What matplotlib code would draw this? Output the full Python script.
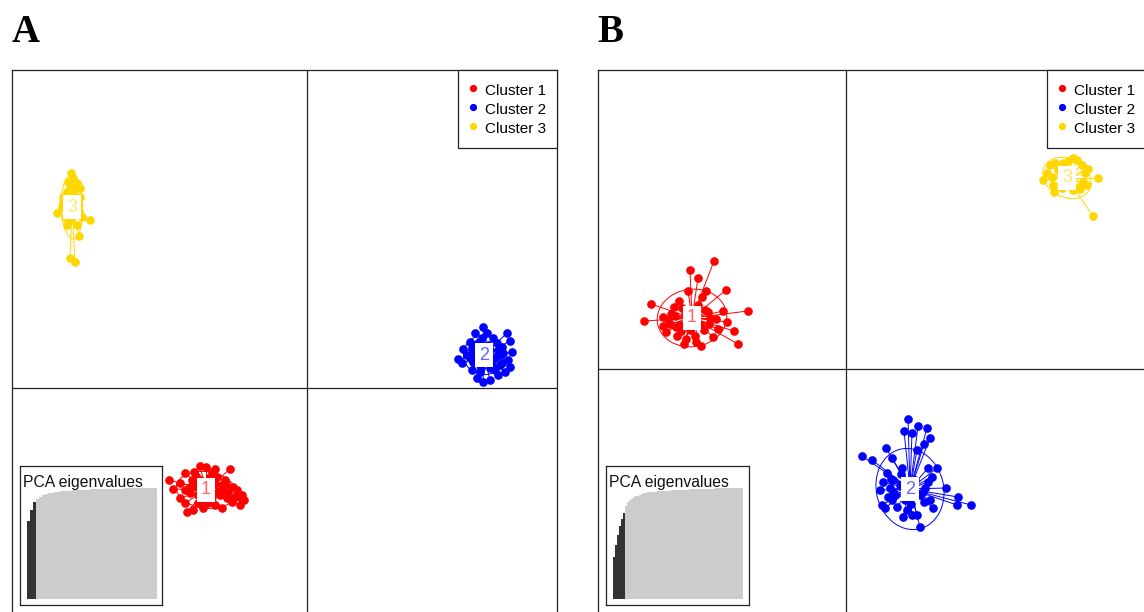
import numpy as np
import matplotlib
matplotlib.use("Agg")
import matplotlib.pyplot as plt
from matplotlib.lines import Line2D
from matplotlib.patches import Ellipse

plt.rcParams['font.family'] = ['Liberation Sans', 'DejaVu Sans']

# ---------------- data ----------------
cluster_labels = ["Cluster 1", "Cluster 2", "Cluster 3"]
cluster_colors = ["#FF0000", "#0000FF", "#FFD700"]

# Panel A scores (LD1, LD2)
a1_x = [-2.76,-2.68,-2.54,-2.44,-2.26,-2.14,-2.02,-1.84,-1.54,-1.64,-1.30,-1.26,-1.34,-1.50,-1.70,-1.84,-2.08,-2.28,-2.40,-2.44,-2.54,-1.40,-1.48,-2.34,-2.30,-1.74,-1.68,-1.94,-1.80,-2.18,-1.60,-1.44,-1.34,-2.24,-2.18,-1.90,-1.84,-2.14,-1.78,-2.34,-2.04,-1.70,-2.22,-1.90,-1.58,-2.44,-1.98,-1.62]
a1_y = [-1.84,-2.02,-1.90,-1.70,-1.68,-1.56,-1.58,-1.62,-1.62,-1.84,-2.14,-2.24,-2.34,-2.28,-2.40,-2.34,-2.40,-2.44,-2.48,-2.30,-2.20,-2.04,-1.98,-2.10,-1.84,-2.14,-2.04,-1.78,-1.78,-2.30,-2.20,-2.18,-2.18,-1.94,-2.14,-2.18,-1.92,-1.84,-2.08,-1.98,-2.24,-1.94,-1.76,-1.68,-2.08,-2.04,-2.30,-1.92]
a2_x = [3.52,3.36,4.00,4.06,3.12,3.02,3.10,3.30,3.40,3.52,3.66,3.82,3.96,4.06,4.02,4.10,3.90,3.72,3.60,3.26,3.20,3.32,3.46,3.76,3.90,3.92,3.42,3.80,3.50,3.32,3.42,3.66,3.56,3.76,3.46,3.62,3.26,3.82,3.36,3.70,3.50,3.60,3.70,3.40,3.56,3.86,3.30,3.66,3.48,3.86]
a2_y = [1.22,1.10,1.10,0.94,0.78,0.58,0.50,0.36,0.20,0.12,0.16,0.26,0.32,0.42,0.56,0.72,0.82,1.00,1.10,0.92,0.66,0.52,0.32,0.36,0.50,0.70,0.90,0.90,1.00,0.72,0.76,0.76,0.52,0.60,0.46,0.86,0.60,0.76,0.86,0.46,0.60,0.70,0.56,0.66,0.84,0.66,0.80,0.40,0.40,0.46]
a3_x = [-4.72,-4.68,-4.78,-4.60,-4.54,-4.74,-4.80,-4.90,-5.00,-4.88,-4.34,-4.56,-4.74,-4.64,-4.84,-4.50,-4.80,-4.60,-4.68,-4.54,-4.88,-4.70,-4.64,-4.78,-4.58,-4.74,-4.66,-4.82,-4.56]
a3_y = [4.30,4.20,4.12,4.10,4.00,4.00,3.92,3.62,3.50,3.72,3.36,3.04,2.60,2.52,3.42,3.42,3.26,3.26,3.96,3.82,3.82,3.76,3.56,3.52,3.66,3.36,3.86,3.66,3.52]
a_centroid_x = [-2.02, 3.54, -4.70]
a_centroid_y = [-2.04, 0.66, 3.62]

# Panel B scores (LD1, LD2)
b1_x = [-2.64,-3.12,-2.96,-2.40,-3.90,-4.04,-1.96,-2.24,-2.16,-2.90,-3.24,-2.46,-2.38,-2.66,-3.60,-3.66,-3.44,-3.16,-2.80,-2.88,-3.38,-3.02,-3.66,-3.52,-2.74,-2.76,-3.34,-3.42,-2.84,-3.22,-2.92,-3.32,-2.82,-3.12,-2.96,-3.28,-2.72,-3.50,-3.30,-3.20,-3.00,-3.56,-2.60,-2.56,-3.40]
b1_y = [2.16,1.98,1.82,1.58,1.30,0.96,1.16,0.76,0.50,0.46,0.50,1.16,0.94,0.64,0.74,1.04,1.24,1.56,1.56,1.44,0.66,0.66,0.86,0.90,0.90,1.14,1.36,1.06,0.78,1.08,0.88,0.88,1.18,0.78,1.28,1.22,1.02,1.10,0.76,0.60,0.54,0.98,1.00,0.80,0.84]
b2_x = [1.24,1.16,1.44,1.62,1.32,1.68,1.56,1.42,0.80,0.32,0.52,0.92,1.82,1.64,1.12,0.94,0.74,0.68,2.00,2.24,2.50,2.22,1.74,1.68,0.72,0.78,1.14,1.32,1.42,1.48,0.92,0.94,1.54,1.64,1.72,0.82,1.22,1.08,1.48,0.98,1.38,1.18,1.58,0.88,0.84,1.02,1.30,1.56,0.90,1.10]
b2_y = [-1.00,-1.24,-1.14,-1.18,-1.28,-1.38,-1.50,-1.62,-1.58,-1.74,-1.82,-1.78,-1.98,-1.98,-1.98,-2.22,-2.26,-2.42,-2.38,-2.56,-2.72,-2.72,-2.78,-2.62,-2.72,-2.78,-2.96,-2.92,-2.92,-3.16,-2.62,-2.46,-2.46,-2.26,-2.16,-2.08,-2.82,-2.32,-2.52,-2.52,-2.22,-2.62,-2.38,-2.38,-2.56,-2.76,-2.70,-2.66,-2.20,-2.10]
b3_x = [4.54,4.44,4.08,4.18,4.02,3.94,4.14,4.16,4.32,4.54,4.68,4.82,4.84,4.78,5.04,4.94,4.62,4.34,4.72,4.12,4.74,4.24,4.66]
b3_y = [4.22,4.16,4.08,4.12,3.92,3.78,3.68,3.54,3.62,3.58,3.60,3.68,4.00,3.92,3.82,3.06,4.18,4.12,4.08,3.84,3.74,3.98,3.64]
b_centroid_x = [-3.08, 1.28, 4.42]
b_centroid_y = [1.02, -2.40, 3.82]

# PCA eigenvalue insets (cumulative share), number of retained PCs
pca_a = [0.70,0.80,0.87,0.90,0.92,0.935,0.945,0.952,0.958,0.963,0.967,0.970,0.973,0.975,0.977,0.979,0.981,0.983,0.984,0.985,0.986,0.987,0.988,0.989,0.990,0.991,0.992,0.993,0.993,0.994,0.995,0.995,0.996,0.996,0.997,0.997,0.998,0.998,0.999,0.999,0.999,1.0,1.0]
pca_a_retained = 3
pca_b = [0.38,0.49,0.58,0.66,0.72,0.775,0.84,0.874,0.89,0.90,0.919,0.928,0.932,0.937,0.946,0.955,0.958,0.960,0.962,0.964,0.966,0.968,0.970,0.971,0.972,0.973,0.975,0.976,0.977,0.978,0.979,0.980,0.981,0.982,0.983,0.984,0.985,0.986,0.987,0.988,0.989,0.990,0.990,0.991,0.992,0.992,0.993,0.994,0.994,0.995,0.995,0.996,0.996,0.997,0.997,0.998,0.998,0.998,0.999,0.999,0.999,1.0,1.0,1.0,1.0]
pca_b_retained = 6

# ---------------- layout ----------------
W, H = 1144, 612
fig = plt.figure(figsize=(W/100, H/100), dpi=100)

def px_axes(l, t, r, b):
    return fig.add_axes([l/W, 1 - b/H, (r - l)/W, (b - t)/H])

def draw_panel(ax, groups, cx, cy, xlim, ylim):
    ax.set_xlim(*xlim)
    ax.set_ylim(*ylim)
    ax.set_xticks([]); ax.set_yticks([])
    for s in ax.spines.values():
        s.set_linewidth(0.9); s.set_color('#222222')
    ax.axvline(0, color='#222222', lw=0.9, zorder=1)
    ax.axhline(0, color='#222222', lw=0.9, zorder=1)
    for (gx, gy), mx, my, col, k in zip(groups, cx, cy, cluster_colors, range(3)):
        gx = np.asarray(gx); gy = np.asarray(gy)
        for x, y in zip(gx, gy):
            ax.plot([mx, x], [my, y], color=col, lw=0.7, zorder=2)
        cov = np.cov(np.vstack([gx, gy]))
        vals, vecs = np.linalg.eigh(cov)
        ang = np.degrees(np.arctan2(vecs[1, 1], vecs[0, 1]))
        ax.add_patch(Ellipse((mx, my), 2*1.5*np.sqrt(vals[1]), 2*1.5*np.sqrt(vals[0]),
                             angle=ang, fill=False, ec=col, lw=0.7, zorder=2))
        ax.plot(gx, gy, 'o', color=col, ms=5.2, mec=col, zorder=3)
        ax.text(mx, my, str(k + 1), color=col, alpha=0.6, fontsize=13, ha='center', va='center',
                zorder=5, bbox=dict(boxstyle='square,pad=0.22', fc='white', ec='none'))
    handles = [Line2D([], [], marker='o', color=c, ls='none', ms=4.2) for c in cluster_colors]
    leg = ax.legend(handles, cluster_labels, loc='upper right', borderaxespad=0, fancybox=False,
                    edgecolor='#222222', framealpha=1, fontsize=11, handlelength=0.5,
                    handleheight=1.42, handletextpad=0.55, labelspacing=0.07, borderpad=0.72)
    leg.get_frame().set_linewidth(0.9)
    leg.set_zorder(10)

def draw_inset(l, t, r, b, vals, nret):
    ax = px_axes(l, t, r, b)
    n = len(vals)
    bw_px = 130.0 / n
    ax.set_xlim(-7.0 / bw_px, n + (r - l - 7 - 130) / bw_px)
    ax.set_ylim(-(b - 599) / 111.0, (599 - t) / 111.0)
    cols = ['#333333' if i < nret else '#CCCCCC' for i in range(n)]
    ax.bar(np.arange(n) + 0.5, vals, width=1.0, color=cols, edgecolor='none')
    ax.set_xticks([]); ax.set_yticks([])
    for s in ax.spines.values():
        s.set_linewidth(0.9); s.set_color('#222222')
    ax.set_facecolor('white')
    ax.set_zorder(20)
    ax.text(3.0 / (r - l), 1 - 16.0 / (b - t), "PCA eigenvalues", transform=ax.transAxes,
            fontsize=11.3, ha='left', va='center', color='#111111')

# Panel A
axA = px_axes(12, 70, 557, 614)
draw_panel(axA, [(a1_x, a1_y), (a2_x, a2_y), (a3_x, a3_y)], a_centroid_x, a_centroid_y,
           (-5.9, 5.0), (-4.52, 6.36))
draw_inset(20, 466, 162, 605, pca_a, pca_a_retained)

# Panel B
axB = px_axes(598, 70, 1146, 614)
draw_panel(axB, [(b1_x, b1_y), (b2_x, b2_y), (b3_x, b3_y)], b_centroid_x, b_centroid_y,
           (-4.96, 6.0), (-4.9, 5.98))
draw_inset(606, 466, 749, 605, pca_b, pca_b_retained)

fig.text(12/W, 1 - 42/H, "A", fontsize=28, fontweight='bold', family='Liberation Serif',
         ha='left', va='baseline')
fig.text(597/W, 1 - 42/H, "B", fontsize=28, fontweight='bold', family='Liberation Serif',
         ha='left', va='baseline')

fig.savefig("out.png", dpi=100)
